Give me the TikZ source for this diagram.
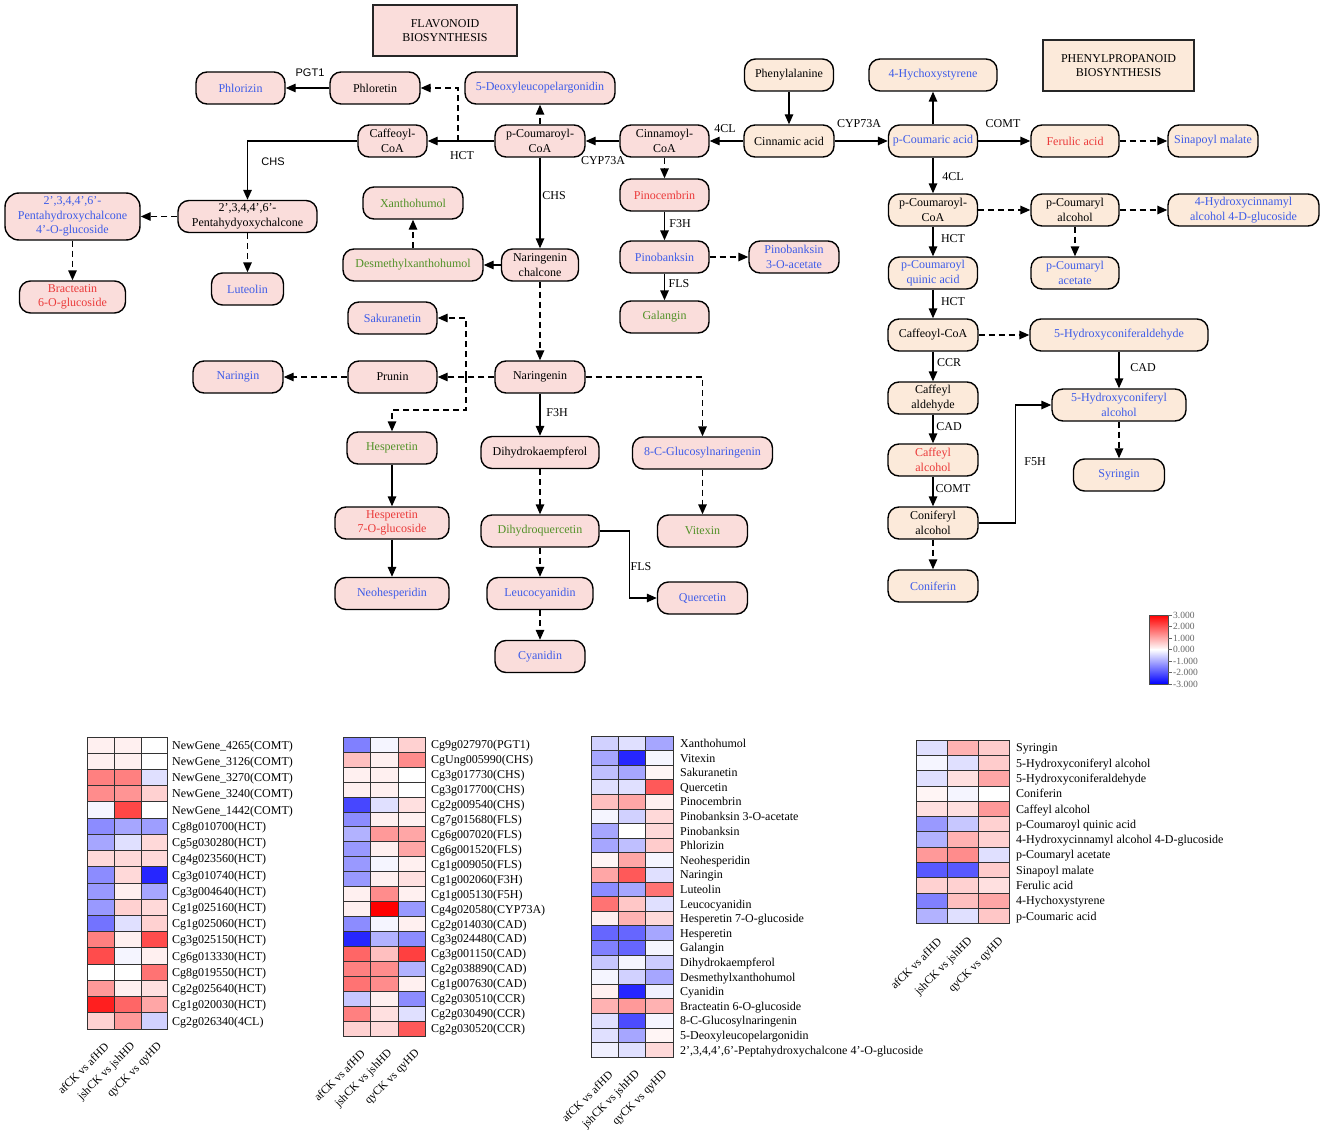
\documentclass[tikz,border=0pt]{standalone}
\usepackage{fontspec}
\setmainfont{Liberation Serif}
\newfontfamily\sansf{Liberation Sans}
\usetikzlibrary{arrows.meta}
\definecolor{flpink}{RGB}{250,221,219}
\definecolor{pppeach}{RGB}{252,234,218}
\definecolor{tblue}{RGB}{62,92,232}
\definecolor{tred}{RGB}{235,58,58}
\definecolor{tgreen}{RGB}{82,146,40}
\newcommand\nodefnt{\fontsize{12}{14.5}\selectfont}
\newcommand\pglulab{2',3,4,4',6'-Peptahydroxychalcone 4'-O-glucoside}
\tikzset{
  nd/.style={draw=black, line width=1.4pt, rounded corners=11pt, minimum height=32pt,
    inner xsep=3pt, inner ysep=1pt, align=center, font=\nodefnt},
  fl/.style={nd, fill=flpink},
  pp/.style={nd, fill=pppeach},
  ttl/.style={draw=black!85, line width=1.6pt, align=center, font=\nodefnt},
  arr/.style={line width=1.4pt, -{Triangle[length=10pt,width=8.5pt]}},
  darr/.style={arr, dash pattern=on 6pt off 4pt},
  enz/.style={font=\fontsize{12}{12}\selectfont, inner sep=0.5pt},
  enzs/.style={font=\sansf\fontsize{11}{11}\selectfont, inner sep=0.5pt},
  hcell/.style={draw=black!80, line width=0.8pt},
  hlab/.style={anchor=base west, inner sep=0pt, font=\fontsize{12}{12}\selectfont},
  clab/.style={anchor=east, rotate=45, inner sep=0pt, font=\fontsize{11.5}{11.5}\selectfont},
  leglab/.style={anchor=west, inner sep=0pt, text=black!60, font=\fontsize{9.5}{9.5}\selectfont}
}
\begin{document}
\begin{tikzpicture}[x=1pt,y=-1pt]
\fill[white] (0,0) rectangle (1325,1145);
\useasboundingbox (0,0) rectangle (1325,1145);

% titles
\node[ttl, fill=flpink, minimum width=144pt, minimum height=51pt] (tflav) at (445,30.5) {FLAVONOID\\BIOSYNTHESIS};
\node[ttl, fill=pppeach, minimum width=151pt, minimum height=51pt] (tphen) at (1118.5,65.5) {PHENYLPROPANOID\\BIOSYNTHESIS};

% flavonoid nodes
\node[fl, minimum width=89pt, text=tblue] (phlorizin) at (240.5,88) {Phlorizin};
\node[fl, minimum width=90pt] (phloretin) at (375,88) {Phloretin};
\node[fl, minimum width=150pt, text=tblue] (deoxy) at (540,88) {5-Deoxyleucopelargonidin};
\node[fl, minimum width=69pt] (caffA) at (392.5,141) {Caffeoyl-\\CoA};
\node[fl, minimum width=90pt] (pcoumA) at (540,141) {p-Coumaroyl-\\CoA};
\node[fl, minimum width=89pt] (cinnA) at (664.5,141) {Cinnamoyl-\\CoA};
\node[pp, minimum width=90pt] (cinnacid) at (789,141) {Cinnamic acid};
\node[pp, minimum width=89pt] (phe) at (789,75) {Phenylalanine};
\node[fl, minimum width=135pt, minimum height=47pt, rounded corners=14pt, text=tblue] (pglu) at (72.5,216.5) {2',3,4,4',6'-\\Pentahydroxychalcone\\4'-O-glucoside};
\node[fl, minimum width=139pt] (pchal) at (247.5,216.5) {2',3,4,4',6'-\\Pentahydyoxychalcone};
\node[fl, minimum width=106pt, text=tred] (bract) at (72.5,297) {Bracteatin\\6-O-glucoside};
\node[fl, minimum width=72pt, text=tblue] (lute) at (247.5,289) {Luteolin};
\node[fl, minimum width=100pt, text=tgreen] (xanth) at (413,203) {Xanthohumol};
\node[fl, minimum width=140pt, text=tgreen] (desm) at (413,265) {Desmethylxanthohumol};
\node[fl, minimum width=77pt] (narch) at (540,265) {Naringenin\\chalcone};
\node[fl, minimum width=89pt, text=tblue] (sakur) at (392.5,318) {Sakuranetin};
\node[fl, minimum width=89pt] (prunin) at (392.5,377) {Prunin};
\node[fl, minimum width=90pt] (naringenin) at (540,377) {Naringenin};
\node[fl, minimum width=89pt, text=tred] (pinoc) at (664.5,195) {Pinocembrin};
\node[fl, minimum width=89pt, text=tblue] (pinob) at (664.5,257) {Pinobanksin};
\node[fl, minimum width=90pt, text=tblue] (pinoac) at (794,257) {Pinobanksin\\3-O-acetate};
\node[fl, minimum width=89pt, text=tgreen] (galan) at (664.5,317) {Galangin};
\node[fl, minimum width=90pt, text=tblue] (naringin) at (238,377) {Naringin};
\node[fl, minimum width=90pt, text=tgreen] (hesp) at (392,448) {Hesperetin};
\node[fl, minimum width=114pt, text=tred] (hesg) at (392,523) {Hesperetin\\7-O-glucoside};
\node[fl, minimum width=114pt, text=tblue] (neoh) at (392,593.5) {Neohesperidin};
\node[fl, minimum width=118pt] (dhk) at (540,452.5) {Dihydrokaempferol};
\node[fl, minimum width=118pt, text=tgreen] (dhq) at (540,531) {Dihydroquercetin};
\node[fl, minimum width=106pt, text=tblue] (leuc) at (540,593.5) {Leucocyanidin};
\node[fl, minimum width=90pt, text=tblue] (cyan) at (540,656.5) {Cyanidin};
\node[fl, minimum width=140pt, text=tblue] (glucnar) at (702.5,453) {8-C-Glucosylnaringenin};
\node[fl, minimum width=90pt, text=tgreen] (vitex) at (702.5,531) {Vitexin};
\node[fl, minimum width=90pt, text=tblue] (querc) at (702.5,598) {Quercetin};

% phenylpropanoid nodes
\node[pp, minimum width=128pt, text=tblue] (hstyr) at (933,75) {4-Hychoxystyrene};
\node[pp, minimum width=89pt, text=tblue] (pcacid) at (933,141) {p-Coumaric acid};
\node[pp, minimum width=88pt, text=tred] (ferul) at (1075,141) {Ferulic acid};
\node[pp, minimum width=90pt, text=tblue] (sinap) at (1213,141) {Sinapoyl malate};
\node[pp, minimum width=89pt] (pcoA) at (933,210) {p-Coumaroyl-\\CoA};
\node[pp, minimum width=88pt] (pcalc) at (1075,210) {p-Coumaryl\\alcohol};
\node[pp, minimum width=151pt, text=tblue] (hcglu) at (1243.5,210) {4-Hydroxycinnamyl\\alcohol 4-D-glucoside};
\node[pp, minimum width=89pt, text=tblue] (pcq) at (933,273) {p-Coumaroyl\\quinic acid};
\node[pp, minimum width=88pt, text=tblue] (pcac) at (1075,273) {p-Coumaryl\\acetate};
\node[pp, minimum width=90pt] (caffB) at (933,335) {Caffeoyl-CoA};
\node[pp, minimum width=178pt, text=tblue] (hcald) at (1119,335) {5-Hydroxyconiferaldehyde};
\node[pp, minimum width=90pt] (cald) at (933,398) {Caffeyl\\aldehyde};
\node[pp, minimum width=134pt, text=tblue] (hcalc) at (1119,405) {5-Hydroxyconiferyl\\alcohol};
\node[pp, minimum width=90pt, text=tred] (calc) at (933,460) {Caffeyl\\alcohol};
\node[pp, minimum width=91pt, text=tblue] (syr) at (1119,475) {Syringin};
\node[pp, minimum width=90pt] (conalc) at (933,523) {Coniferyl\\alcohol};
\node[pp, minimum width=90pt, text=tblue] (conif) at (933,586) {Coniferin};

% flavonoid connectors
\draw[arr] (phloretin.west) -- (phlorizin.east);
\draw[arr] (pcoumA.west) -- (caffA.east);
\coordinate (hctb) at (458,141);
\draw[darr] (hctb) |- (phloretin.east);
\draw[arr] (caffA.west) -| (pchal.north);
\draw[darr] (pchal.west) -- (pglu.east);
\draw[darr] (pglu.south) -- (bract.north);
\draw[darr] (pchal.south) -- (lute.north);
\draw[darr] (pcoumA.north) -- (deoxy.south);
\draw[arr] (cinnA.west) -- (pcoumA.east);
\draw[arr] (cinnacid.west) -- (cinnA.east);
\draw[arr] (phe.south) -- (cinnacid.north);
\draw[arr] (cinnacid.east) -- (pcacid.west);
\draw[arr] (pcoumA.south) -- (narch.north);
\draw[arr] (narch.west) -- (desm.east);
\draw[darr] (desm.north) -- (xanth.south);
\draw[darr] (narch.south) -- (naringenin.north);
\draw[darr] (cinnA.south) -- (pinoc.north);
\draw[arr] (pinoc.south) -- (pinob.north);
\draw[darr] (pinob.east) -- (pinoac.west);
\draw[arr] (pinob.south) -- (galan.north);
\draw[darr] (naringenin.west) -- (prunin.east);
\draw[darr] (prunin.west) -- (naringin.east);
\coordinate (nbr) at (466,377);
\coordinate (nbd) at (466,410);
\draw[darr] (nbr) |- (sakur.east);
\draw[darr] (nbr) -- (nbd) -| (hesp.north);
\draw[arr] (naringenin.south) -- (dhk.north);
\draw[darr] (naringenin.east) -| (glucnar.north);
\draw[arr] (hesp.south) -- (hesg.north);
\draw[arr] (hesg.south) -- (neoh.north);
\draw[darr] (dhk.south) -- (dhq.north);
\draw[darr] (dhq.south) -- (leuc.north);
\draw[darr] (leuc.south) -- (cyan.north);
\draw[arr] (dhq.east) -- ++(30,0) |- (querc.west);
\draw[darr] (glucnar.south) -- (vitex.north);

% phenylpropanoid connectors
\draw[arr] (pcacid.north) -- (hstyr.south);
\draw[arr] (pcacid.east) -- (ferul.west);
\draw[darr] (ferul.east) -- (sinap.west);
\draw[arr] (pcacid.south) -- (pcoA.north);
\draw[darr] (pcoA.east) -- (pcalc.west);
\draw[darr] (pcalc.east) -- (hcglu.west);
\draw[darr] (pcalc.south) -- (pcac.north);
\draw[arr] (pcoA.south) -- (pcq.north);
\draw[arr] (pcq.south) -- (caffB.north);
\draw[darr] (caffB.east) -- (hcald.west);
\draw[arr] (caffB.south) -- (cald.north);
\draw[arr] (hcald.south) -- (hcalc.north);
\draw[arr] (cald.south) -- (calc.north);
\draw[arr] (calc.south) -- (conalc.north);
\draw[arr] (conalc.east) -- ++(37,0) |- (hcalc.west);
\draw[darr] (hcalc.south) -- (syr.north);
\draw[darr] (conalc.south) -- (conif.north);

% enzyme labels
\node[enzs] (ePGT) at (310,73) {PGT1};
\node[enzs] (eCHS1) at (273,162) {CHS};
\node[enz] (eHCT1) at (462,156) {HCT};
\node[enz] (eCYP1) at (603,161) {CYP73A};
\node[enz] (e4CL1) at (725,129) {4CL};
\node[enz] (eCYP2) at (859,124) {CYP73A};
\node[enz] (eCHS2) at (554,196) {CHS};
\node[enz] (eF3H1) at (680,224) {F3H};
\node[enz] (eFLS1) at (679,284) {FLS};
\node[enz] (eF3H2) at (557,413) {F3H};
\node[enz] (eFLS2) at (641,567) {FLS};
\node[enz] (eCOMT1) at (1003,124) {COMT};
\node[enz] (e4CL2) at (953,177) {4CL};
\node[enz] (eHCT2) at (953,239) {HCT};
\node[enz] (eHCT3) at (953,302) {HCT};
\node[enz] (eCCR) at (949,363) {CCR};
\node[enz] (eCAD1) at (949,427) {CAD};
\node[enz] (eCOMT2) at (953,489) {COMT};
\node[enz] (eCAD2) at (1143,368) {CAD};
\node[enz] (eF5H) at (1035,462) {F5H};

% colour bar
\shade[top color=red, bottom color=white] (1149,615) rectangle (1168,649.5);
\shade[top color=white, bottom color=blue] (1149,649.5) rectangle (1168,684);
\draw[black!70, line width=0.8pt] (1149,615) rectangle (1168,684);
\foreach \v [count=\i from 0] in {3.000,2.000,1.000,0.000,-1.000,-2.000,-3.000}{
  \draw[black!60, line width=0.6pt] (1168,615+11.5*\i) -- ++(4,0);
  \node[leglab] (lg\i) at (1173,615+11.5*\i) {\v};
}

% heatmap 1
\foreach \lab/\ca/\cb/\cc [count=\i from 0] in {
 NewGene\_4265(COMT)/red!6/red!6/white,
 NewGene\_3126(COMT)/red!6/red!6/white,
 NewGene\_3270(COMT)/red!50/red!50/blue!12,
 NewGene\_3240(COMT)/red!45/red!42/red!18,
 NewGene\_1442(COMT)/blue!4/red!72/white,
 Cg8g010700(HCT)/blue!45/blue!35/blue!38,
 Cg5g030280(HCT)/blue!35/blue!12/red!15,
 Cg4g023560(HCT)/red!15/red!15/red!15,
 Cg3g010740(HCT)/blue!45/red!15/blue!85,
 Cg3g004640(HCT)/blue!40/red!6/blue!35,
 Cg1g025160(HCT)/blue!40/red!18/red!15,
 Cg1g025060(HCT)/blue!55/blue!12/red!18,
 Cg3g025150(HCT)/red!50/red!6/red!70,
 Cg6g013330(HCT)/red!70/blue!4/red!6,
 Cg8g019550(HCT)/white/white/red!55,
 Cg2g025640(HCT)/red!40/red!6/red!12,
 Cg1g020030(HCT)/red!88/red!60/red!35,
 Cg2g026340(4CL)/red!18/red!40/blue!18}{
  \pgfmathsetmacro\yy{737+16.22*\i}
  \path[hcell, fill=\ca] (87.3,\yy) rectangle ++(26.8,16.22);
  \path[hcell, fill=\cb] (114.1,\yy) rectangle ++(26.8,16.22);
  \path[hcell, fill=\cc] (140.9,\yy) rectangle ++(26.8,16.22);
  \node[hlab] (hA\i) at (172,\yy+12.3) {\lab};
}
\node[clab] (hAc1) at (106.7,1045) {afCK vs afHD};
\node[clab] (hAc2) at (133.5,1045) {jshCK vs jshHD};
\node[clab] (hAc3) at (160.3,1045) {qyCK vs qyHD};

% heatmap 2
\foreach \lab/\ca/\cb/\cc [count=\i from 0] in {
 Cg9g027970(PGT1)/blue!50/blue!4/red!18,
 CgUng005990(CHS)/red!25/red!6/red!45,
 Cg3g017730(CHS)/red!6/red!6/white,
 Cg3g017700(CHS)/red!6/red!6/white,
 Cg2g009540(CHS)/blue!72/blue!12/red!12,
 Cg7g015680(FLS)/blue!45/red!6/red!6,
 Cg6g007020(FLS)/blue!30/red!40/red!35,
 Cg6g001520(FLS)/blue!40/red!6/red!35,
 Cg1g009050(FLS)/blue!40/blue!4/red!6,
 Cg1g002060(F3H)/blue!40/red!6/red!12,
 Cg1g005130(F5H)/red!6/red!45/red!6,
 Cg4g020580(CYP73A)/red!6/red!100/blue!40,
 Cg2g014030(CAD)/blue!45/blue!4/red!6,
 Cg3g024480(CAD)/blue!85/blue!30/blue!45,
 Cg3g001150(CAD)/red!60/red!25/red!75,
 Cg2g038890(CAD)/red!50/red!45/blue!30,
 Cg1g007630(CAD)/red!55/red!45/red!6,
 Cg2g030510(CCR)/blue!22/red!6/blue!45,
 Cg2g030490(CCR)/red!50/red!12/blue!12,
 Cg2g030520(CCR)/red!18/red!15/red!65}{
  \pgfmathsetmacro\yy{737.3+14.93*\i}
  \path[hcell, fill=\ca] (343.3,\yy) rectangle ++(27.45,14.93);
  \path[hcell, fill=\cb] (370.75,\yy) rectangle ++(27.45,14.93);
  \path[hcell, fill=\cc] (398.2,\yy) rectangle ++(27.45,14.93);
  \node[hlab] (hB\i) at (431,\yy+11.6) {\lab};
}
\node[clab] (hBc1) at (363,1052) {afCK vs afHD};
\node[clab] (hBc2) at (390.5,1052) {jshCK vs jshHD};
\node[clab] (hBc3) at (418,1052) {qyCK vs qyHD};

% heatmap 3
\foreach \lab/\ca/\cb/\cc [count=\i from 0] in {
 Xanthohumol/blue!18/blue!12/blue!35,
 Vitexin/blue!35/blue!85/blue!4,
 Sakuranetin/blue!25/blue!35/red!4,
 Quercetin/blue!12/blue!12/red!65,
 Pinocembrin/red!25/red!35/red!6,
 Pinobanksin 3-O-acetate/blue!4/blue!18/red!15,
 Pinobanksin/blue!35/white/red!15,
 Phlorizin/blue!35/blue!25/red!20,
 Neohesperidin/red!4/red!35/blue!4,
 Naringin/red!35/red!65/blue!12,
 Luteolin/blue!45/blue!35/red!55,
 Leucocyanidin/red!55/red!22/blue!12,
 Hesperetin 7-O-glucoside/red!6/red!30/red!15,
 Hesperetin/blue!60/blue!60/blue!35,
 Galangin/blue!50/blue!60/blue!4,
 Dihydrokaempferol/blue!22/blue!4/blue!20,
 Desmethylxanthohumol/blue!4/blue!18/blue!35,
 Cyanidin/red!6/blue!85/blue!6,
 Bracteatin 6-O-glucoside/red!30/red!40/red!30,
 8-C-Glucosylnaringenin/blue!12/blue!70/blue!4,
 5-Deoxyleucopelargonidin/blue!12/blue!35/red!4,
 \pglulab/blue!6/blue!12/red!15}{
  \pgfmathsetmacro\yy{736+14.6*\i}
  \path[hcell, fill=\ca] (591,\yy) rectangle ++(27.4,14.6);
  \path[hcell, fill=\cb] (618.4,\yy) rectangle ++(27.4,14.6);
  \path[hcell, fill=\cc] (645.8,\yy) rectangle ++(27.4,14.6);
  \node[hlab] (hC\i) at (680,\yy+11.4) {\lab};
}
\node[clab] (hCc1) at (610.7,1073) {afCK vs afHD};
\node[clab] (hCc2) at (638.1,1073) {jshCK vs jshHD};
\node[clab] (hCc3) at (665.5,1073) {qyCK vs qyHD};

% heatmap 4
\foreach \lab/\ca/\cb/\cc [count=\i from 0] in {
 Syringin/blue!12/red!30/red!20,
 5-Hydroxyconiferyl alcohol/blue!4/blue!12/red!20,
 5-Hydroxyconiferaldehyde/blue!12/red!12/red!35,
 Coniferin/red!4/blue!4/white,
 Caffeyl alcohol/red!12/red!12/red!40,
 p-Coumaroyl quinic acid/blue!40/blue!22/red!18,
 4-Hydroxycinnamyl alcohol 4-D-glucoside/blue!30/red!30/red!18,
 p-Coumaryl acetate/red!40/red!45/blue!12,
 Sinapoyl malate/blue!65/blue!65/red!20,
 Ferulic acid/red!18/red!18/red!12,
 4-Hychoxystyrene/blue!50/red!25/red!35,
 p-Coumaric acid/blue!30/blue!12/red!22}{
  \pgfmathsetmacro\yy{740+15.3*\i}
  \path[hcell, fill=\ca] (916,\yy) rectangle ++(31.1,15.3);
  \path[hcell, fill=\cb] (947.1,\yy) rectangle ++(31.1,15.3);
  \path[hcell, fill=\cc] (978.2,\yy) rectangle ++(31.1,15.3);
  \node[hlab] (hD\i) at (1016,\yy+11.8) {\lab};
}
\node[clab] (hDc1) at (939.5,940) {afCK vs afHD};
\node[clab] (hDc2) at (970.6,940) {jshCK vs jshHD};
\node[clab] (hDc3) at (1001.7,940) {qyCK vs qyHD};
\end{tikzpicture}
\end{document}
